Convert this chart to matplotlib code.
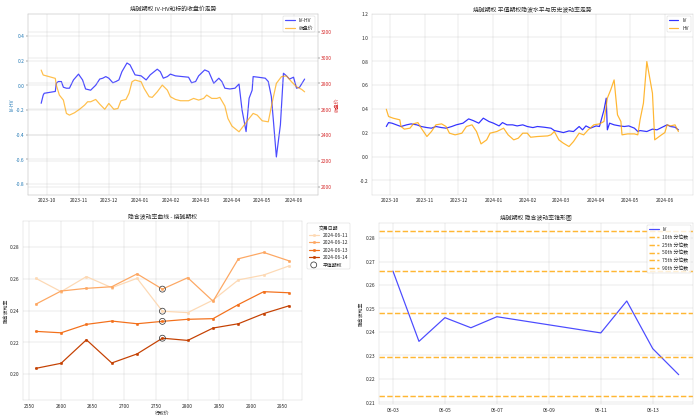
import pandas as pd
import matplotlib
matplotlib.use('Agg')
import matplotlib.pyplot as plt
import matplotlib.dates as mdates
import seaborn as sns

sns.set_style('whitegrid')
plt.rcParams['font.family'] = ['Noto Sans CJK SC', 'DejaVu Sans']
plt.rcParams['axes.unicode_minus'] = False

# IV-HV spread and underlying close
ivhv_dates = ['2023-09-25', '2023-09-27', '2023-09-28', '2023-10-09', '2023-10-10', '2023-10-12',
              '2023-10-15', '2023-10-17', '2023-10-20', '2023-10-23', '2023-10-27', '2023-11-01',
              '2023-11-05', '2023-11-08', '2023-11-13', '2023-11-18', '2023-11-22', '2023-11-25',
              '2023-11-28', '2023-12-01', '2023-12-05', '2023-12-08', '2023-12-11', '2023-12-14',
              '2023-12-19', '2023-12-22', '2023-12-27', '2024-01-02', '2024-01-07', '2024-01-11',
              '2024-01-18', '2024-01-21', '2024-01-24', '2024-01-28', '2024-01-31', '2024-02-05',
              '2024-02-12', '2024-02-18', '2024-02-21', '2024-02-25', '2024-02-28', '2024-03-05',
              '2024-03-09', '2024-03-14', '2024-03-19', '2024-03-22', '2024-03-25', '2024-03-30',
              '2024-04-04', '2024-04-08', '2024-04-11', '2024-04-15', '2024-04-18', '2024-04-21',
              '2024-04-22', '2024-04-27', '2024-05-04', '2024-05-07', '2024-05-10', '2024-05-12',
              '2024-05-15', '2024-05-19', '2024-05-22', '2024-05-25', '2024-05-28', '2024-06-01',
              '2024-06-04', '2024-06-07', '2024-06-12']
ivhv_values = [-0.146, -0.08, -0.065, -0.05, 0.016, 0.03, 0.03, -0.016, -0.024, -0.024, 0.043, 0.09,
               0.043, -0.03, -0.04, 0.0, 0.05, 0.057, 0.07, 0.057, 0.02, 0.03, 0.043, 0.11, 0.18, 0.165,
               0.084, 0.076, 0.043, 0.084, 0.13, 0.11, 0.057, 0.07, 0.09, 0.076, 0.07, 0.065, 0.02, 0.03,
               0.076, 0.124, 0.11, 0.016, 0.057, 0.03, -0.024, -0.03, -0.024, 0.01, -0.2, -0.375, -0.105,
               -0.04, 0.07, 0.065, 0.057, 0.03, -0.09, -0.28, -0.58, -0.32, 0.097, 0.076, 0.05, 0.065,
               -0.024, -0.016, 0.05]

close_dates = ['2023-09-25', '2023-09-27', '2023-10-03', '2023-10-09', '2023-10-10', '2023-10-13',
               '2023-10-17', '2023-10-20', '2023-10-23', '2023-10-28', '2023-11-02', '2023-11-07',
               '2023-11-10', '2023-11-13', '2023-11-18', '2023-11-22', '2023-11-27', '2023-12-01',
               '2023-12-06', '2023-12-10', '2023-12-13', '2023-12-18', '2023-12-21', '2023-12-24',
               '2023-12-27', '2024-01-02', '2024-01-05', '2024-01-10', '2024-01-13', '2024-01-18',
               '2024-01-23', '2024-01-28', '2024-01-31', '2024-02-05', '2024-02-10', '2024-02-18',
               '2024-02-23', '2024-02-28', '2024-03-04', '2024-03-07', '2024-03-12', '2024-03-17',
               '2024-03-20', '2024-03-25', '2024-03-28', '2024-04-01', '2024-04-08', '2024-04-13',
               '2024-04-18', '2024-04-22', '2024-04-26', '2024-05-01', '2024-05-07', '2024-05-11',
               '2024-05-15', '2024-05-20', '2024-05-25', '2024-05-30', '2024-06-04', '2024-06-09',
               '2024-06-12']
close_values = [2903, 2865, 2852, 2839, 2787, 2710, 2671, 2568, 2555, 2573, 2600, 2632, 2658, 2658,
                2676, 2640, 2600, 2645, 2600, 2606, 2666, 2676, 2723, 2813, 2826, 2813, 2761, 2697,
                2692, 2735, 2787, 2748, 2697, 2676, 2666, 2666, 2684, 2671, 2684, 2710, 2684, 2684,
                2692, 2625, 2529, 2470, 2426, 2477, 2529, 2568, 2555, 2511, 2503, 2658, 2800, 2852,
                2858, 2813, 2774, 2754, 2735]

# ATM implied vol and historical vol
iv_dates = ['2023-09-28', '2023-09-30', '2023-10-03', '2023-10-07', '2023-10-11', '2023-10-16',
            '2023-10-20', '2023-10-25', '2023-10-29', '2023-11-03', '2023-11-07', '2023-11-11',
            '2023-11-16', '2023-11-20', '2023-11-25', '2023-11-29', '2023-12-05', '2023-12-10',
            '2023-12-14', '2023-12-19', '2023-12-23', '2023-12-28', '2024-01-01', '2024-01-06',
            '2024-01-09', '2024-01-13', '2024-01-18', '2024-01-22', '2024-01-27', '2024-01-31',
            '2024-02-05', '2024-02-09', '2024-02-15', '2024-02-21', '2024-02-24', '2024-02-28',
            '2024-03-03', '2024-03-08', '2024-03-12', '2024-03-17', '2024-03-20', '2024-03-23',
            '2024-03-27', '2024-04-01', '2024-04-04', '2024-04-08', '2024-04-10', '2024-04-11',
            '2024-04-13', '2024-04-17', '2024-04-22', '2024-04-26', '2024-04-30', '2024-05-05',
            '2024-05-08', '2024-05-10', '2024-05-16', '2024-05-21', '2024-05-25', '2024-05-29',
            '2024-06-03', '2024-06-06', '2024-06-10', '2024-06-13']
iv_values = [0.252, 0.285, 0.28, 0.266, 0.252, 0.266, 0.274, 0.266, 0.252, 0.243, 0.238, 0.252,
             0.243, 0.238, 0.252, 0.266, 0.28, 0.316, 0.302, 0.28, 0.322, 0.294, 0.28, 0.257, 0.285,
             0.266, 0.266, 0.257, 0.266, 0.252, 0.243, 0.252, 0.246, 0.238, 0.218, 0.21, 0.201, 0.215,
             0.21, 0.252, 0.224, 0.257, 0.238, 0.257, 0.252, 0.39, 0.49, 0.224, 0.28, 0.266, 0.257,
             0.252, 0.257, 0.238, 0.21, 0.218, 0.21, 0.23, 0.224, 0.243, 0.266, 0.252, 0.246, 0.224]

hv_dates = ['2023-09-28', '2023-09-30', '2023-10-04', '2023-10-10', '2023-10-11', '2023-10-14',
            '2023-10-19', '2023-10-22', '2023-10-26', '2023-10-29', '2023-11-03', '2023-11-07',
            '2023-11-11', '2023-11-16', '2023-11-20', '2023-11-23', '2023-11-28', '2023-12-04',
            '2023-12-08', '2023-12-13', '2023-12-17', '2023-12-21', '2023-12-26', '2023-12-29',
            '2024-01-04', '2024-01-10', '2024-01-14', '2024-01-19', '2024-01-23', '2024-01-27',
            '2024-01-31', '2024-02-03', '2024-02-09', '2024-02-18', '2024-02-21', '2024-02-24',
            '2024-02-28', '2024-03-03', '2024-03-08', '2024-03-12', '2024-03-17', '2024-03-21',
            '2024-03-25', '2024-03-30', '2024-04-04', '2024-04-08', '2024-04-11', '2024-04-14',
            '2024-04-17', '2024-04-20', '2024-04-23', '2024-04-24', '2024-04-29', '2024-05-05',
            '2024-05-08', '2024-05-10', '2024-05-13', '2024-05-16', '2024-05-21', '2024-05-23',
            '2024-05-25', '2024-05-29', '2024-06-01', '2024-06-03', '2024-06-06', '2024-06-10',
            '2024-06-13']
hv_values = [0.397, 0.336, 0.322, 0.308, 0.252, 0.23, 0.238, 0.274, 0.285, 0.238, 0.168, 0.21,
             0.266, 0.274, 0.252, 0.196, 0.182, 0.196, 0.252, 0.266, 0.21, 0.106, 0.14, 0.196, 0.21,
             0.238, 0.182, 0.14, 0.154, 0.196, 0.196, 0.162, 0.168, 0.173, 0.182, 0.21, 0.14, 0.112,
             0.084, 0.126, 0.196, 0.182, 0.224, 0.266, 0.274, 0.294, 0.49, 0.56, 0.643, 0.35, 0.294,
             0.182, 0.19, 0.19, 0.182, 0.308, 0.448, 0.797, 0.531, 0.14, 0.154, 0.182, 0.201, 0.266,
             0.257, 0.266, 0.21]

# volatility smile
strikes = [2560, 2600, 2640, 2680, 2720, 2760, 2800, 2840, 2880, 2920, 2960]
smile_dates = ['2024-06-11', '2024-06-12', '2024-06-13', '2024-06-14']
smile_iv = [
    [0.2603, 0.2519, 0.2614, 0.2544, 0.2603, 0.2396, 0.2387, 0.2466, 0.2593, 0.2624, 0.2681],
    [0.2440, 0.2523, 0.2540, 0.2550, 0.2631, 0.2535, 0.2607, 0.2459, 0.2726, 0.2766, 0.2713],
    [0.2269, 0.2260, 0.2313, 0.2334, 0.2317, 0.2332, 0.2345, 0.2349, 0.2438, 0.2519, 0.2512],
    [0.2036, 0.2068, 0.2216, 0.2070, 0.2127, 0.2226, 0.2212, 0.2290, 0.2317, 0.2381, 0.2430],
]
atm_strike = 2760

# volatility cone
cone_dates = ['2024-06-03', '2024-06-04', '2024-06-05', '2024-06-06', '2024-06-07',
              '2024-06-11', '2024-06-12', '2024-06-13', '2024-06-14']
cone_iv = [0.2659, 0.2360, 0.2461, 0.2418, 0.2465, 0.2396, 0.2532, 0.2329, 0.2218]
quantile_names = ['10th', '25th', '50th', '75th', '90th']
quantile_values = [0.2127, 0.2293, 0.2481, 0.2659, 0.2830]

fig, axes = plt.subplots(2, 2, figsize=(20, 11.98), dpi=35)

# top left: IV-HV vs close
ax = axes[0, 0]
ax.plot(pd.to_datetime(ivhv_dates), ivhv_values, color='blue', alpha=0.7, lw=2.5, label='IV-HV')
ax.set_ylabel('IV-HV', color='tab:blue')
ax.tick_params(axis='y', labelcolor='tab:blue')
ax.set_ylim(-0.885, 0.58)
ax2 = ax.twinx()
ax2.plot(pd.to_datetime(close_dates), close_values, color='orange', alpha=0.7, lw=2.5, label='收盘价')
ax2.set_ylabel('收盘价', color='tab:red')
ax2.tick_params(axis='y', labelcolor='tab:red')
ax2.set_ylim(1940, 3340)
ax.set_title('烧碱期权 IV-HV和标的收盘价走势')
ax.xaxis.set_major_locator(mdates.MonthLocator())
ax.xaxis.set_major_formatter(mdates.DateFormatter('%Y-%m'))
h1, l1 = ax.get_legend_handles_labels()
h2, l2 = ax2.get_legend_handles_labels()
ax.legend(h1 + h2, l1 + l2, loc='upper right')

# top right: IV vs HV
ax = axes[0, 1]
ax.plot(pd.to_datetime(iv_dates), iv_values, color='blue', alpha=0.8, lw=2.5, label='IV')
ax.plot(pd.to_datetime(hv_dates), hv_values, color='orange', alpha=0.8, lw=2.5, label='HV')
ax.set_ylim(-0.32, 1.2)
ax.set_title('烧碱期权 平值期权隐波水平与历史波动率走势')
ax.xaxis.set_major_locator(mdates.MonthLocator())
ax.xaxis.set_major_formatter(mdates.DateFormatter('%Y-%m'))
ax.legend(loc='upper right')

# bottom left: smile
ax = axes[1, 0]
palette = sns.color_palette('Oranges', len(smile_dates))
atm_idx = strikes.index(atm_strike)
for i, d in enumerate(smile_dates):
    ax.plot(strikes, smile_iv[i], marker='o', markersize=5, lw=2.5, color=palette[i], label=d)
for i, d in enumerate(smile_dates):
    ax.scatter(atm_strike, smile_iv[i][atm_idx], s=150, facecolors='none', edgecolors='#333333',
               lw=1.5, zorder=5, label='平值期权' if i == 0 else None)
ax.set_ylim(0.1836, 0.2966)
ax.set_title('隐含波动率曲线 - 烧碱期权')
ax.set_xlabel('行权价')
ax.set_ylabel('隐含波动率')
ax.legend(title='交易日期', loc='upper left', bbox_to_anchor=(1.01, 1))

# bottom right: cone
ax = axes[1, 1]
ax.plot(pd.to_datetime(cone_dates), cone_iv, color='blue', alpha=0.7, lw=2.5, label='IV')
for name, q in zip(quantile_names, quantile_values):
    ax.axhline(q, color='orange', ls='--', lw=3, alpha=0.8, label=f'{name} 分位数')
ax.set_title('烧碱期权 隐含波动率锥形图')
ax.set_ylabel('隐含波动率')
ax.xaxis.set_major_locator(mdates.DayLocator(bymonthday=range(1, 32, 2)))
ax.xaxis.set_major_formatter(mdates.DateFormatter('%m-%d'))
ax.legend(loc='upper right')

# panel positions matched to the reference layout
axes[0, 0].set_position([0.040, 0.535, 0.414, 0.432])
ax2.set_position([0.040, 0.535, 0.414, 0.432])
axes[0, 1].set_position([0.531, 0.535, 0.459, 0.432])
axes[1, 0].set_position([0.033, 0.045, 0.398, 0.428])
axes[1, 1].set_position([0.541, 0.035, 0.449, 0.433])

plt.savefig('out.png', dpi=35)
